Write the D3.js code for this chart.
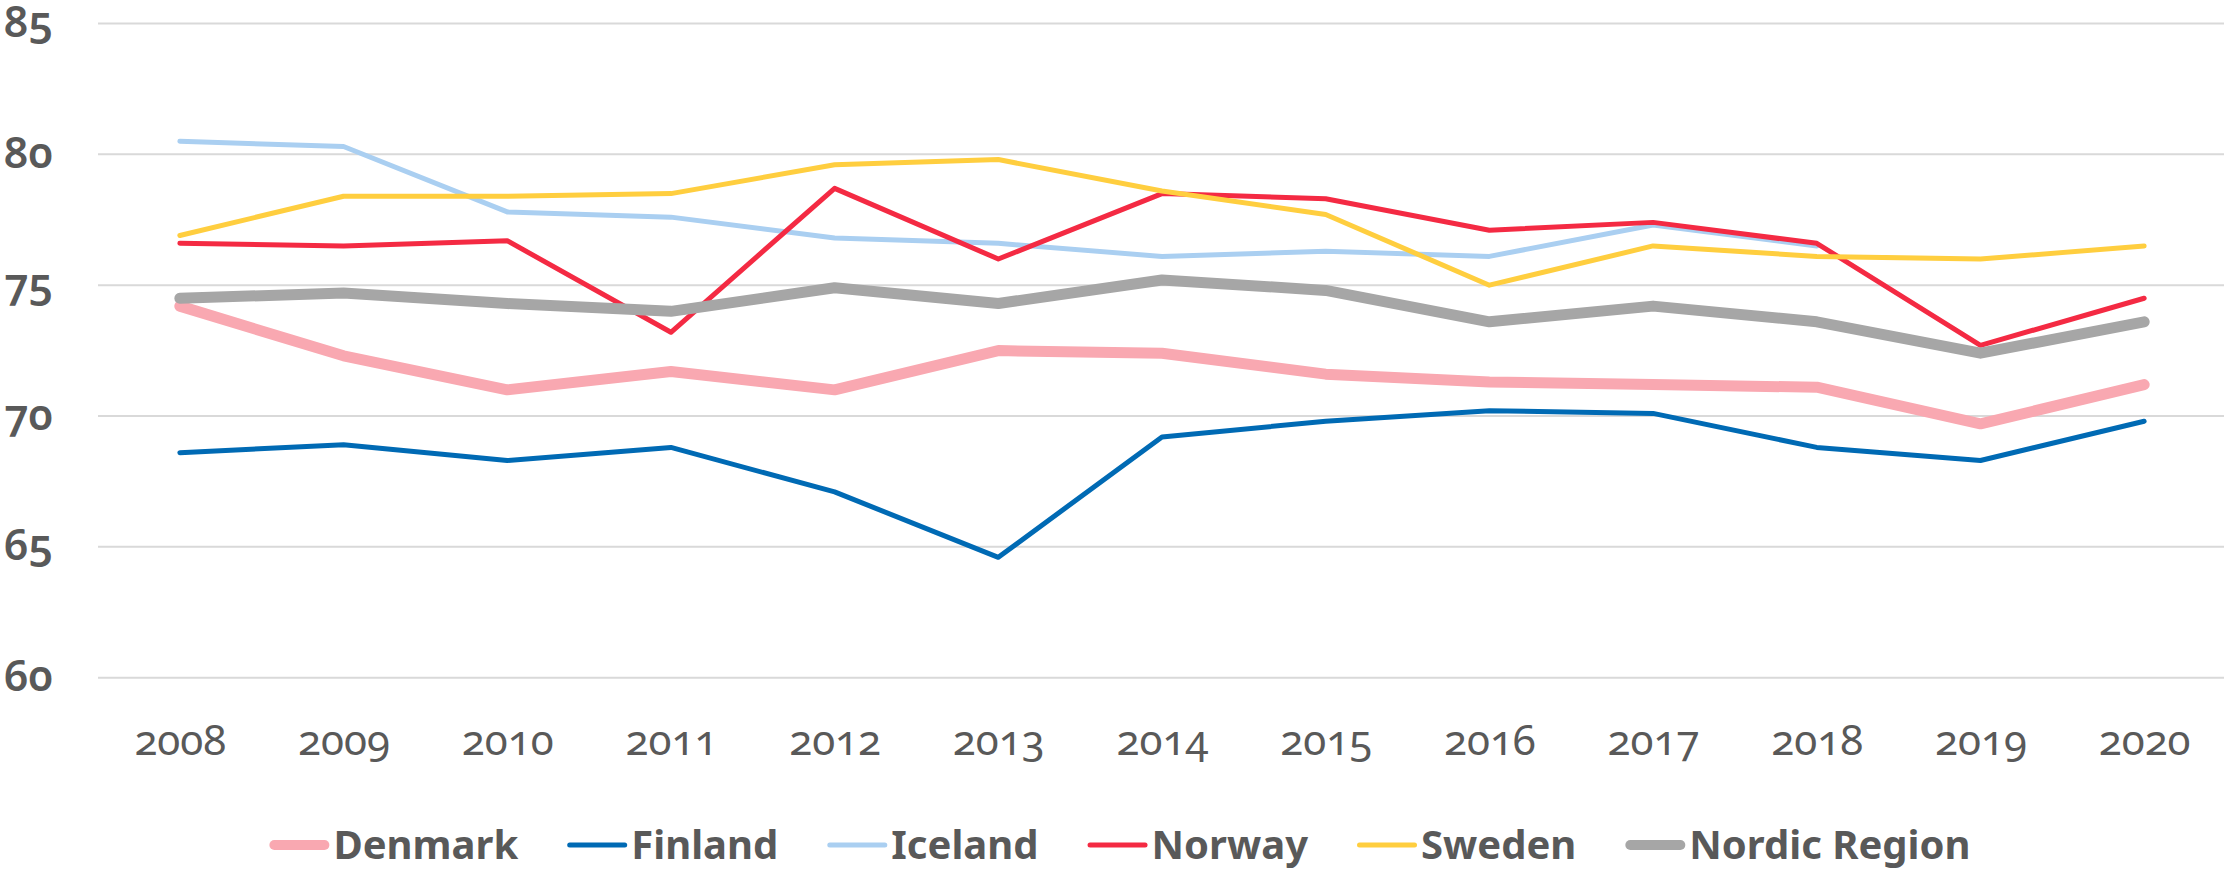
<!DOCTYPE html>
<html>
<head>
<meta charset="utf-8">
<script src="https://cdn.jsdelivr.net/npm/d3@7"></script>
<style>
  body { margin: 0; background: #fff; }
  svg text { font-family: "Noto Sans", "Open Sans", sans-serif; fill: #595959; font-variant-numeric: oldstyle-nums; }
</style>
</head>
<body>
<div id="chart"></div>
<script>
const years = [2008, 2009, 2010, 2011, 2012, 2013, 2014, 2015, 2016, 2017, 2018, 2019, 2020];
const yTicks = [60, 65, 70, 75, 80, 85];

const denmark = [74.2, 72.3, 71.0, 71.7, 71.0, 72.5, 72.4, 71.6, 71.3, 71.2, 71.1, 69.7, 71.2];
const finland = [68.6, 68.9, 68.3, 68.8, 67.1, 64.6, 69.2, 69.8, 70.2, 70.1, 68.8, 68.3, 69.8];
const iceland = [80.5, 80.3, 77.8, 77.6, 76.8, 76.6, 76.1, 76.3, 76.1, 77.3, 76.5, null, null];
const norway = [76.6, 76.5, 76.7, 73.2, 78.7, 76.0, 78.5, 78.3, 77.1, 77.4, 76.6, 72.7, 74.5];
const sweden = [76.9, 78.4, 78.4, 78.5, 79.6, 79.8, 78.6, 77.7, 75.0, 76.5, 76.1, 76.0, 76.5];
const nordic = [74.5, 74.7, 74.3, 74.0, 74.9, 74.3, 75.2, 74.8, 73.6, 74.2, 73.6, 72.4, 73.6];

const seriesNames = ["Denmark", "Finland", "Iceland", "Norway", "Sweden", "Nordic Region"];
const seriesValues = [denmark, finland, iceland, norway, sweden, nordic];
const seriesColors = ["#F9A8B1", "#006AB4", "#AACFF1", "#F42A43", "#FFCE3F", "#A6A6A6"];
const seriesWidths = [11, 5, 5, 5, 5, 11];

const size = { width: 2224, height: 870 };
const margin = { top: 23.5, bottom: 192.3, left: 98, right: -2 };

const svg = d3
  .select("#chart")
  .append("svg")
  .attr("width", size.width)
  .attr("height", size.height);

const x = d3
  .scalePoint()
  .domain(years)
  .range([margin.left, size.width - margin.right])
  .padding(0.5);

const y = d3
  .scaleLinear()
  .domain([60, 85])
  .range([size.height - margin.bottom, margin.top]);

// gridlines + y labels
const grid = svg.append("g");
yTicks.forEach((v) => {
  grid
    .append("line")
    .attr("x1", margin.left)
    .attr("x2", size.width - margin.right)
    .attr("y1", y(v))
    .attr("y2", y(v))
    .attr("stroke", "#D9D9D9")
    .attr("stroke-width", 2);

  grid
    .append("text")
    .text(v)
    .attr("x", 53)
    .attr("y", y(v) + 13.5)
    .attr("text-anchor", "end")
    .style("font-size", "43px")
    .style("font-weight", 600);
});

// x labels
const xAxis = svg
  .append("g")
  .attr("transform", `translate(0, ${size.height - margin.bottom})`)
  .call(d3.axisBottom(x).tickSize(0).tickPadding(0));
xAxis.select(".domain").remove();
xAxis
  .selectAll("text")
  .attr("dy", null)
  .attr("y", 755 - (size.height - margin.bottom))
  .style("font-size", "42px")
  .style("font-family", '"Noto Sans", "Open Sans", sans-serif')
  .style("font-variant-numeric", "oldstyle-nums")
  .attr("fill", "#595959");

const line = d3
  .line()
  .defined((d) => d !== null)
  .x((d, i) => x(years[i]))
  .y((d) => y(d));

svg
  .append("g")
  .selectAll("path")
  .data(seriesValues)
  .enter()
  .append("path")
  .attr("d", (d) => line(d))
  .attr("fill", "none")
  .attr("stroke", (d, i) => seriesColors[i])
  .attr("stroke-width", (d, i) => seriesWidths[i])
  .attr("stroke-linecap", "round")
  .attr("stroke-linejoin", "round");

// legend, laid out left to right then centred
const legend = svg.append("g");
let cursor = 0;
seriesNames.forEach((name, i) => {
  const item = legend.append("g").attr("transform", `translate(${cursor}, 0)`);
  const w = seriesWidths[i] > 6 ? 10 : 5;
  item
    .append("line")
    .attr("x1", w / 2)
    .attr("x2", 60 - w / 2)
    .attr("y1", 845)
    .attr("y2", 845)
    .attr("stroke", seriesColors[i])
    .attr("stroke-width", w)
    .attr("stroke-linecap", "round");
  const label = item
    .append("text")
    .text(name)
    .attr("x", 64)
    .attr("y", 859)
    .style("font-size", "40px")
    .style("font-weight", 700)
    .style("font-variant-numeric", "normal");
  cursor += 64 + label.node().getComputedTextLength() + 49;
});
const legendWidth = cursor - 49;
legend.attr("transform", `translate(${(1120 - legendWidth / 2).toFixed(1)}, 0)`);
</script>
</body>
</html>
